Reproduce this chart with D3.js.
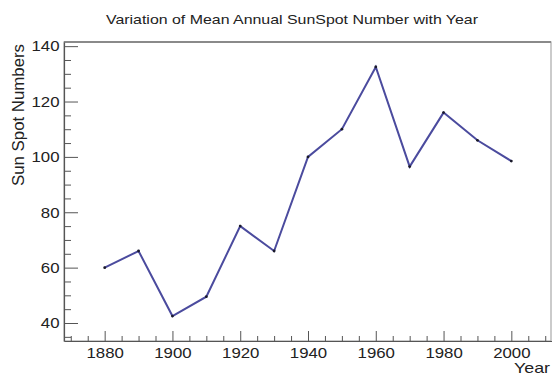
<!DOCTYPE html>
<html>
<head>
<meta charset="utf-8">
<script src="https://cdn.jsdelivr.net/npm/d3@7"></script>
<style>
  html, body { margin: 0; padding: 0; background: #fff; }
  svg { display: block; }
  text { font-family: "Liberation Sans", Arial, Helvetica, sans-serif; fill: #222; }
</style>
</head>
<body>
<svg id="chart" width="552" height="376"></svg>
<script>
// Mean annual sunspot number, one value per decade
const years = [1880, 1890, 1900, 1910, 1920, 1930, 1940, 1950, 1960, 1970, 1980, 1990, 2000];
const sunspots = [60, 66, 42.5, 49.5, 75, 66, 100, 110, 132.5, 96.5, 116, 106, 98.5];
const yearTicks = [1880, 1900, 1920, 1940, 1960, 1980, 2000];
const countTicks = [40, 60, 80, 100, 120, 140];

const frame = { left: 64, top: 42, right: 551, bottom: 341 };

const svg = d3.select("#chart");

const x = d3.scaleLinear().domain([1868, 2012]).range([frame.left, 552]);
const y = d3.scaleLinear().domain([33.5, 141.5]).range([frame.bottom, frame.top]);

// Frame
svg.append("rect")
  .attr("x", frame.left).attr("y", frame.top)
  .attr("width", frame.right - frame.left).attr("height", frame.bottom - frame.top)
  .attr("fill", "#fff").attr("stroke", "#a8a8a8").attr("stroke-width", 1.2);
svg.append("line")
  .attr("x1", frame.left).attr("x2", frame.right)
  .attr("y1", frame.top).attr("y2", frame.top)
  .attr("stroke", "#8a8a8a").attr("stroke-width", 2);

// Minor ticks every 5 units, drawn inside the frame
const xMinor = d3.range(1870, 2012, 5).filter(v => !yearTicks.includes(v));
const yMinor = d3.range(35, 141, 5).filter(v => !countTicks.includes(v));

// Bottom axis: ticks point inward (upwards)
const xAxis = d3.axisBottom(x).tickValues(yearTicks).tickFormat(d3.format("d"))
  .tickSizeInner(-10).tickSizeOuter(0).tickPadding(6);
const gx = svg.append("g").attr("transform", `translate(0,${frame.bottom})`).call(xAxis);
gx.select(".domain").attr("stroke", "#555").attr("stroke-width", 1.2);
gx.selectAll(".tick line").attr("stroke", "#555");
gx.selectAll(".tick text").attr("font-size", 15).attr("fill", "#222")
  .attr("transform", "scale(1.12,1)");

const xMinorAxis = d3.axisBottom(x).tickValues(xMinor).tickFormat("")
  .tickSizeInner(-5).tickSizeOuter(0);
const gxm = svg.append("g").attr("transform", `translate(0,${frame.bottom})`).call(xMinorAxis);
gxm.select(".domain").remove();
gxm.selectAll(".tick line").attr("stroke", "#555");

// Left axis: ticks point inward (rightwards)
const yAxis = d3.axisLeft(y).tickValues(countTicks).tickFormat(d3.format("d"))
  .tickSizeInner(-14).tickSizeOuter(0).tickPadding(4);
const gy = svg.append("g").attr("transform", `translate(${frame.left},0)`).call(yAxis);
gy.select(".domain").attr("stroke", "#555").attr("stroke-width", 1.2);
gy.selectAll(".tick line").attr("stroke", "#555");
gy.selectAll(".tick text").attr("font-size", 15).attr("fill", "#222")
  .attr("x", -4).attr("transform", "scale(1.12,1)");

const yMinorAxis = d3.axisLeft(y).tickValues(yMinor).tickFormat("")
  .tickSizeInner(-7).tickSizeOuter(0);
const gym = svg.append("g").attr("transform", `translate(${frame.left},0)`).call(yMinorAxis);
gym.select(".domain").remove();
gym.selectAll(".tick line").attr("stroke", "#555");

// Data line
const pts = years.map((yr, i) => [yr, sunspots[i]]);
const line = d3.line().x(d => x(d[0])).y(d => y(d[1]));
svg.append("path")
  .datum(pts)
  .attr("d", line)
  .attr("fill", "none")
  .attr("stroke", "#4b4b9e")
  .attr("stroke-width", 2)
  .attr("stroke-linejoin", "miter");

// Point markers
svg.append("g").selectAll("circle")
  .data(pts).join("circle")
  .attr("cx", d => x(d[0])).attr("cy", d => y(d[1]))
  .attr("r", 1.4).attr("fill", "#1a1a2a");

// Title
svg.append("text")
  .attr("x", 292).attr("y", 24)
  .attr("text-anchor", "middle")
  .attr("font-size", 13.5)
  .attr("textLength", 372).attr("lengthAdjust", "spacingAndGlyphs")
  .text("Variation of Mean Annual SunSpot Number with Year");

// Axis titles
svg.append("text")
  .attr("transform", "translate(24,115) rotate(-90)")
  .attr("text-anchor", "middle")
  .attr("font-size", 16)
  .attr("textLength", 142).attr("lengthAdjust", "spacingAndGlyphs")
  .text("Sun Spot Numbers");

svg.append("text")
  .attr("x", 514).attr("y", 373)
  .attr("font-size", 15)
  .attr("textLength", 36).attr("lengthAdjust", "spacingAndGlyphs")
  .text("Year");
</script>
</body>
</html>
